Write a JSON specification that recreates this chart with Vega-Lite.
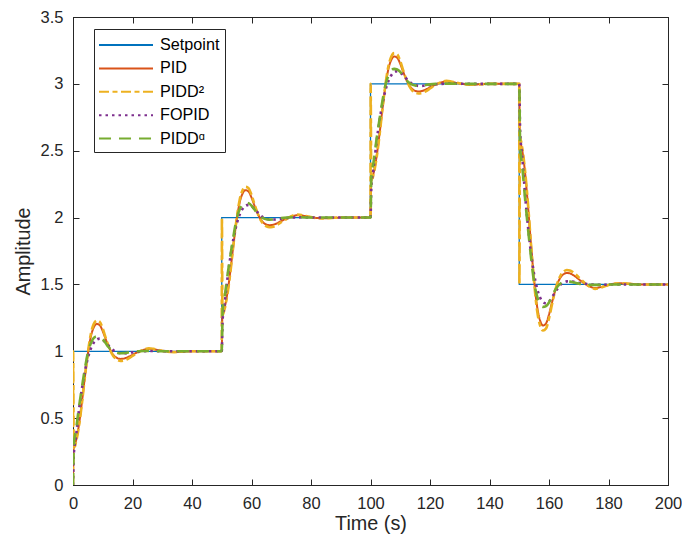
{
 "$schema": "https://vega.github.io/schema/vega-lite/v6.json",
 "width": 595,
 "height": 468,
 "autosize": {"type": "none"},
 "padding": {"left": 73, "top": 17, "right": 14, "bottom": 60},
 "background": "white",
 "config": {
  "font": "Liberation Sans",
  "view": {"stroke": "#262626", "strokeWidth": 1},
  "axis": {
   "domainColor": "#262626", "tickColor": "#262626", "labelColor": "#262626", "titleColor": "#262626",
   "labelFontSize": 16.5, "titleFontSize": 19.8, "titleFontWeight": "normal", "grid": false,
   "tickSize": -6, "labelPadding": 16, "labelFlush": false, "labelOverlap": false
  }
 },
 "data": {"values": [
  {"s":"Setpoint","t":0,"y":1},{"s":"Setpoint","t":50,"y":2},{"s":"Setpoint","t":100,"y":3},{"s":"Setpoint","t":150,"y":1.5},{"s":"Setpoint","t":200,"y":1.5},

  {"s":"PID","t":0,"y":0},{"s":"PID","t":0.2,"y":0.27},{"s":"PID","t":1,"y":0.33},{"s":"PID","t":2,"y":0.45},{"s":"PID","t":3,"y":0.62},{"s":"PID","t":4,"y":0.81},{"s":"PID","t":5,"y":0.98},{"s":"PID","t":6,"y":1.11},{"s":"PID","t":7,"y":1.18},{"s":"PID","t":8,"y":1.205},{"s":"PID","t":9,"y":1.195},{"s":"PID","t":10,"y":1.15},{"s":"PID","t":11,"y":1.09},{"s":"PID","t":12,"y":1.035},{"s":"PID","t":13,"y":0.99},{"s":"PID","t":14,"y":0.962},{"s":"PID","t":15,"y":0.948},{"s":"PID","t":16,"y":0.943},{"s":"PID","t":17,"y":0.945},{"s":"PID","t":18,"y":0.952},{"s":"PID","t":19,"y":0.962},{"s":"PID","t":20,"y":0.974},{"s":"PID","t":22,"y":0.996},{"s":"PID","t":24,"y":1.012},{"s":"PID","t":25.5,"y":1.018},{"s":"PID","t":27,"y":1.015},{"s":"PID","t":29,"y":1.007},{"s":"PID","t":31,"y":0.999},{"s":"PID","t":34,"y":0.995},{"s":"PID","t":37,"y":0.997},{"s":"PID","t":40,"y":1},
  {"s":"PID","t":50,"y":1},{"s":"PID","t":50.2,"y":1.27},{"s":"PID","t":51,"y":1.33},{"s":"PID","t":52,"y":1.45},{"s":"PID","t":53,"y":1.62},{"s":"PID","t":54,"y":1.81},{"s":"PID","t":55,"y":1.98},{"s":"PID","t":56,"y":2.11},{"s":"PID","t":57,"y":2.18},{"s":"PID","t":58,"y":2.205},{"s":"PID","t":59,"y":2.195},{"s":"PID","t":60,"y":2.15},{"s":"PID","t":61,"y":2.09},{"s":"PID","t":62,"y":2.035},{"s":"PID","t":63,"y":1.99},{"s":"PID","t":64,"y":1.962},{"s":"PID","t":65,"y":1.948},{"s":"PID","t":66,"y":1.943},{"s":"PID","t":67,"y":1.945},{"s":"PID","t":68,"y":1.952},{"s":"PID","t":69,"y":1.962},{"s":"PID","t":70,"y":1.974},{"s":"PID","t":72,"y":1.996},{"s":"PID","t":74,"y":2.012},{"s":"PID","t":75.5,"y":2.018},{"s":"PID","t":77,"y":2.015},{"s":"PID","t":79,"y":2.007},{"s":"PID","t":81,"y":1.999},{"s":"PID","t":84,"y":1.995},{"s":"PID","t":87,"y":1.997},{"s":"PID","t":90,"y":2},
  {"s":"PID","t":100,"y":2},{"s":"PID","t":100.2,"y":2.27},{"s":"PID","t":101,"y":2.33},{"s":"PID","t":102,"y":2.45},{"s":"PID","t":103,"y":2.62},{"s":"PID","t":104,"y":2.81},{"s":"PID","t":105,"y":2.98},{"s":"PID","t":106,"y":3.11},{"s":"PID","t":107,"y":3.18},{"s":"PID","t":108,"y":3.205},{"s":"PID","t":109,"y":3.195},{"s":"PID","t":110,"y":3.15},{"s":"PID","t":111,"y":3.09},{"s":"PID","t":112,"y":3.035},{"s":"PID","t":113,"y":2.99},{"s":"PID","t":114,"y":2.962},{"s":"PID","t":115,"y":2.948},{"s":"PID","t":116,"y":2.943},{"s":"PID","t":117,"y":2.945},{"s":"PID","t":118,"y":2.952},{"s":"PID","t":119,"y":2.962},{"s":"PID","t":120,"y":2.974},{"s":"PID","t":122,"y":2.996},{"s":"PID","t":124,"y":3.012},{"s":"PID","t":125.5,"y":3.018},{"s":"PID","t":127,"y":3.015},{"s":"PID","t":129,"y":3.007},{"s":"PID","t":131,"y":2.999},{"s":"PID","t":134,"y":2.995},{"s":"PID","t":137,"y":2.997},{"s":"PID","t":140,"y":3},
  {"s":"PID","t":150,"y":3},{"s":"PID","t":150.2,"y":2.595},{"s":"PID","t":151,"y":2.505},{"s":"PID","t":152,"y":2.325},{"s":"PID","t":153,"y":2.07},{"s":"PID","t":154,"y":1.785},{"s":"PID","t":155,"y":1.53},{"s":"PID","t":156,"y":1.335},{"s":"PID","t":157,"y":1.23},{"s":"PID","t":158,"y":1.193},{"s":"PID","t":159,"y":1.208},{"s":"PID","t":160,"y":1.275},{"s":"PID","t":161,"y":1.365},{"s":"PID","t":162,"y":1.448},{"s":"PID","t":163,"y":1.515},{"s":"PID","t":164,"y":1.557},{"s":"PID","t":165,"y":1.578},{"s":"PID","t":166,"y":1.586},{"s":"PID","t":167,"y":1.583},{"s":"PID","t":168,"y":1.572},{"s":"PID","t":169,"y":1.557},{"s":"PID","t":170,"y":1.539},{"s":"PID","t":172,"y":1.506},{"s":"PID","t":174,"y":1.482},{"s":"PID","t":175.5,"y":1.473},{"s":"PID","t":177,"y":1.478},{"s":"PID","t":179,"y":1.49},{"s":"PID","t":181,"y":1.502},{"s":"PID","t":184,"y":1.508},{"s":"PID","t":187,"y":1.505},{"s":"PID","t":190,"y":1.5},{"s":"PID","t":200,"y":1.5},

  {"s":"PIDD²","t":0,"y":0},{"s":"PIDD²","t":0.05,"y":1},{"s":"PIDD²","t":0.25,"y":0.27},{"s":"PIDD²","t":1,"y":0.32},{"s":"PIDD²","t":2,"y":0.44},{"s":"PIDD²","t":3,"y":0.61},{"s":"PIDD²","t":4,"y":0.81},{"s":"PIDD²","t":5,"y":0.99},{"s":"PIDD²","t":6,"y":1.13},{"s":"PIDD²","t":7,"y":1.205},{"s":"PIDD²","t":8,"y":1.23},{"s":"PIDD²","t":9,"y":1.22},{"s":"PIDD²","t":10,"y":1.17},{"s":"PIDD²","t":11,"y":1.1},{"s":"PIDD²","t":12,"y":1.035},{"s":"PIDD²","t":13,"y":0.985},{"s":"PIDD²","t":14,"y":0.952},{"s":"PIDD²","t":15,"y":0.935},{"s":"PIDD²","t":16,"y":0.928},{"s":"PIDD²","t":17,"y":0.93},{"s":"PIDD²","t":18,"y":0.938},{"s":"PIDD²","t":19,"y":0.95},{"s":"PIDD²","t":20,"y":0.965},{"s":"PIDD²","t":22,"y":0.993},{"s":"PIDD²","t":24,"y":1.015},{"s":"PIDD²","t":25.5,"y":1.022},{"s":"PIDD²","t":27,"y":1.018},{"s":"PIDD²","t":29,"y":1.008},{"s":"PIDD²","t":31,"y":0.999},{"s":"PIDD²","t":34,"y":0.994},{"s":"PIDD²","t":37,"y":0.997},{"s":"PIDD²","t":40,"y":1},
  {"s":"PIDD²","t":50,"y":1},{"s":"PIDD²","t":50.05,"y":2},{"s":"PIDD²","t":50.25,"y":1.27},{"s":"PIDD²","t":51,"y":1.32},{"s":"PIDD²","t":52,"y":1.44},{"s":"PIDD²","t":53,"y":1.61},{"s":"PIDD²","t":54,"y":1.81},{"s":"PIDD²","t":55,"y":1.99},{"s":"PIDD²","t":56,"y":2.13},{"s":"PIDD²","t":57,"y":2.205},{"s":"PIDD²","t":58,"y":2.23},{"s":"PIDD²","t":59,"y":2.22},{"s":"PIDD²","t":60,"y":2.17},{"s":"PIDD²","t":61,"y":2.1},{"s":"PIDD²","t":62,"y":2.035},{"s":"PIDD²","t":63,"y":1.985},{"s":"PIDD²","t":64,"y":1.952},{"s":"PIDD²","t":65,"y":1.935},{"s":"PIDD²","t":66,"y":1.928},{"s":"PIDD²","t":67,"y":1.93},{"s":"PIDD²","t":68,"y":1.938},{"s":"PIDD²","t":69,"y":1.95},{"s":"PIDD²","t":70,"y":1.965},{"s":"PIDD²","t":72,"y":1.993},{"s":"PIDD²","t":74,"y":2.015},{"s":"PIDD²","t":75.5,"y":2.022},{"s":"PIDD²","t":77,"y":2.018},{"s":"PIDD²","t":79,"y":2.008},{"s":"PIDD²","t":81,"y":1.999},{"s":"PIDD²","t":84,"y":1.994},{"s":"PIDD²","t":87,"y":1.997},{"s":"PIDD²","t":90,"y":2},
  {"s":"PIDD²","t":100,"y":2},{"s":"PIDD²","t":100.05,"y":3},{"s":"PIDD²","t":100.25,"y":2.27},{"s":"PIDD²","t":101,"y":2.32},{"s":"PIDD²","t":102,"y":2.44},{"s":"PIDD²","t":103,"y":2.61},{"s":"PIDD²","t":104,"y":2.81},{"s":"PIDD²","t":105,"y":2.99},{"s":"PIDD²","t":106,"y":3.13},{"s":"PIDD²","t":107,"y":3.205},{"s":"PIDD²","t":108,"y":3.23},{"s":"PIDD²","t":109,"y":3.22},{"s":"PIDD²","t":110,"y":3.17},{"s":"PIDD²","t":111,"y":3.1},{"s":"PIDD²","t":112,"y":3.035},{"s":"PIDD²","t":113,"y":2.985},{"s":"PIDD²","t":114,"y":2.952},{"s":"PIDD²","t":115,"y":2.935},{"s":"PIDD²","t":116,"y":2.928},{"s":"PIDD²","t":117,"y":2.93},{"s":"PIDD²","t":118,"y":2.938},{"s":"PIDD²","t":119,"y":2.95},{"s":"PIDD²","t":120,"y":2.965},{"s":"PIDD²","t":122,"y":2.993},{"s":"PIDD²","t":124,"y":3.015},{"s":"PIDD²","t":125.5,"y":3.022},{"s":"PIDD²","t":127,"y":3.018},{"s":"PIDD²","t":129,"y":3.008},{"s":"PIDD²","t":131,"y":2.999},{"s":"PIDD²","t":134,"y":2.994},{"s":"PIDD²","t":137,"y":2.997},{"s":"PIDD²","t":140,"y":3},
  {"s":"PIDD²","t":150,"y":3},{"s":"PIDD²","t":150.05,"y":1.5},{"s":"PIDD²","t":150.25,"y":2.595},{"s":"PIDD²","t":151,"y":2.52},{"s":"PIDD²","t":152,"y":2.34},{"s":"PIDD²","t":153,"y":2.085},{"s":"PIDD²","t":154,"y":1.785},{"s":"PIDD²","t":155,"y":1.515},{"s":"PIDD²","t":156,"y":1.305},{"s":"PIDD²","t":157,"y":1.193},{"s":"PIDD²","t":158,"y":1.155},{"s":"PIDD²","t":159,"y":1.17},{"s":"PIDD²","t":160,"y":1.245},{"s":"PIDD²","t":161,"y":1.35},{"s":"PIDD²","t":162,"y":1.448},{"s":"PIDD²","t":163,"y":1.523},{"s":"PIDD²","t":164,"y":1.572},{"s":"PIDD²","t":165,"y":1.598},{"s":"PIDD²","t":166,"y":1.608},{"s":"PIDD²","t":167,"y":1.605},{"s":"PIDD²","t":168,"y":1.593},{"s":"PIDD²","t":169,"y":1.575},{"s":"PIDD²","t":170,"y":1.553},{"s":"PIDD²","t":172,"y":1.511},{"s":"PIDD²","t":174,"y":1.478},{"s":"PIDD²","t":175.5,"y":1.467},{"s":"PIDD²","t":177,"y":1.473},{"s":"PIDD²","t":179,"y":1.488},{"s":"PIDD²","t":181,"y":1.502},{"s":"PIDD²","t":184,"y":1.509},{"s":"PIDD²","t":187,"y":1.505},{"s":"PIDD²","t":190,"y":1.5},{"s":"PIDD²","t":200,"y":1.5},

  {"s":"FOPID","t":0,"y":0},{"s":"FOPID","t":0.3,"y":0.24},{"s":"FOPID","t":1,"y":0.36},{"s":"FOPID","t":2,"y":0.56},{"s":"FOPID","t":3,"y":0.72},{"s":"FOPID","t":4,"y":0.85},{"s":"FOPID","t":5,"y":0.95},{"s":"FOPID","t":6,"y":1.02},{"s":"FOPID","t":7,"y":1.065},{"s":"FOPID","t":8,"y":1.088},{"s":"FOPID","t":9,"y":1.095},{"s":"FOPID","t":10,"y":1.085},{"s":"FOPID","t":11,"y":1.065},{"s":"FOPID","t":12,"y":1.04},{"s":"FOPID","t":13,"y":1.018},{"s":"FOPID","t":14,"y":1},{"s":"FOPID","t":15,"y":0.99},{"s":"FOPID","t":16,"y":0.985},{"s":"FOPID","t":17,"y":0.984},{"s":"FOPID","t":18,"y":0.986},{"s":"FOPID","t":19,"y":0.989},{"s":"FOPID","t":20,"y":0.992},{"s":"FOPID","t":22,"y":0.997},{"s":"FOPID","t":24,"y":1},{"s":"FOPID","t":27,"y":1.002},{"s":"FOPID","t":30,"y":1.001},{"s":"FOPID","t":35,"y":1},
  {"s":"FOPID","t":50,"y":1},{"s":"FOPID","t":50.3,"y":1.24},{"s":"FOPID","t":51,"y":1.36},{"s":"FOPID","t":52,"y":1.56},{"s":"FOPID","t":53,"y":1.72},{"s":"FOPID","t":54,"y":1.85},{"s":"FOPID","t":55,"y":1.95},{"s":"FOPID","t":56,"y":2.02},{"s":"FOPID","t":57,"y":2.065},{"s":"FOPID","t":58,"y":2.088},{"s":"FOPID","t":59,"y":2.095},{"s":"FOPID","t":60,"y":2.085},{"s":"FOPID","t":61,"y":2.065},{"s":"FOPID","t":62,"y":2.04},{"s":"FOPID","t":63,"y":2.018},{"s":"FOPID","t":64,"y":2},{"s":"FOPID","t":65,"y":1.99},{"s":"FOPID","t":66,"y":1.985},{"s":"FOPID","t":67,"y":1.984},{"s":"FOPID","t":68,"y":1.986},{"s":"FOPID","t":69,"y":1.989},{"s":"FOPID","t":70,"y":1.992},{"s":"FOPID","t":72,"y":1.997},{"s":"FOPID","t":74,"y":2},{"s":"FOPID","t":77,"y":2.002},{"s":"FOPID","t":80,"y":2.001},{"s":"FOPID","t":85,"y":2},
  {"s":"FOPID","t":100,"y":2},{"s":"FOPID","t":100.3,"y":2.24},{"s":"FOPID","t":101,"y":2.36},{"s":"FOPID","t":102,"y":2.56},{"s":"FOPID","t":103,"y":2.72},{"s":"FOPID","t":104,"y":2.85},{"s":"FOPID","t":105,"y":2.95},{"s":"FOPID","t":106,"y":3.02},{"s":"FOPID","t":107,"y":3.065},{"s":"FOPID","t":108,"y":3.088},{"s":"FOPID","t":109,"y":3.095},{"s":"FOPID","t":110,"y":3.085},{"s":"FOPID","t":111,"y":3.065},{"s":"FOPID","t":112,"y":3.04},{"s":"FOPID","t":113,"y":3.018},{"s":"FOPID","t":114,"y":3},{"s":"FOPID","t":115,"y":2.99},{"s":"FOPID","t":116,"y":2.985},{"s":"FOPID","t":117,"y":2.984},{"s":"FOPID","t":118,"y":2.986},{"s":"FOPID","t":119,"y":2.989},{"s":"FOPID","t":120,"y":2.992},{"s":"FOPID","t":122,"y":2.997},{"s":"FOPID","t":124,"y":3},{"s":"FOPID","t":127,"y":3.002},{"s":"FOPID","t":130,"y":3.001},{"s":"FOPID","t":135,"y":3},
  {"s":"FOPID","t":150,"y":3},{"s":"FOPID","t":150.3,"y":2.64},{"s":"FOPID","t":151,"y":2.46},{"s":"FOPID","t":152,"y":2.16},{"s":"FOPID","t":153,"y":1.92},{"s":"FOPID","t":154,"y":1.725},{"s":"FOPID","t":155,"y":1.575},{"s":"FOPID","t":156,"y":1.47},{"s":"FOPID","t":157,"y":1.403},{"s":"FOPID","t":158,"y":1.368},{"s":"FOPID","t":159,"y":1.358},{"s":"FOPID","t":160,"y":1.373},{"s":"FOPID","t":161,"y":1.403},{"s":"FOPID","t":162,"y":1.44},{"s":"FOPID","t":163,"y":1.473},{"s":"FOPID","t":164,"y":1.5},{"s":"FOPID","t":165,"y":1.515},{"s":"FOPID","t":166,"y":1.523},{"s":"FOPID","t":167,"y":1.524},{"s":"FOPID","t":168,"y":1.521},{"s":"FOPID","t":169,"y":1.517},{"s":"FOPID","t":170,"y":1.512},{"s":"FOPID","t":172,"y":1.505},{"s":"FOPID","t":174,"y":1.5},{"s":"FOPID","t":177,"y":1.497},{"s":"FOPID","t":180,"y":1.499},{"s":"FOPID","t":185,"y":1.5},{"s":"FOPID","t":200,"y":1.5},

  {"s":"PIDDᵅ","t":0,"y":0},{"s":"PIDDᵅ","t":0.3,"y":0.31},{"s":"PIDDᵅ","t":1,"y":0.41},{"s":"PIDDᵅ","t":2,"y":0.58},{"s":"PIDDᵅ","t":3,"y":0.73},{"s":"PIDDᵅ","t":4,"y":0.87},{"s":"PIDDᵅ","t":5,"y":0.99},{"s":"PIDDᵅ","t":6,"y":1.06},{"s":"PIDDᵅ","t":7,"y":1.1},{"s":"PIDDᵅ","t":8,"y":1.112},{"s":"PIDDᵅ","t":9,"y":1.108},{"s":"PIDDᵅ","t":10,"y":1.09},{"s":"PIDDᵅ","t":11,"y":1.06},{"s":"PIDDᵅ","t":12,"y":1.03},{"s":"PIDDᵅ","t":13,"y":1.008},{"s":"PIDDᵅ","t":14,"y":0.994},{"s":"PIDDᵅ","t":15,"y":0.987},{"s":"PIDDᵅ","t":16,"y":0.985},{"s":"PIDDᵅ","t":17,"y":0.986},{"s":"PIDDᵅ","t":18,"y":0.989},{"s":"PIDDᵅ","t":19,"y":0.993},{"s":"PIDDᵅ","t":20,"y":0.996},{"s":"PIDDᵅ","t":22,"y":1},{"s":"PIDDᵅ","t":24,"y":1.002},{"s":"PIDDᵅ","t":27,"y":1.002},{"s":"PIDDᵅ","t":30,"y":1},
  {"s":"PIDDᵅ","t":50,"y":1},{"s":"PIDDᵅ","t":50.3,"y":1.31},{"s":"PIDDᵅ","t":51,"y":1.41},{"s":"PIDDᵅ","t":52,"y":1.58},{"s":"PIDDᵅ","t":53,"y":1.73},{"s":"PIDDᵅ","t":54,"y":1.87},{"s":"PIDDᵅ","t":55,"y":1.99},{"s":"PIDDᵅ","t":56,"y":2.06},{"s":"PIDDᵅ","t":57,"y":2.1},{"s":"PIDDᵅ","t":58,"y":2.112},{"s":"PIDDᵅ","t":59,"y":2.108},{"s":"PIDDᵅ","t":60,"y":2.09},{"s":"PIDDᵅ","t":61,"y":2.06},{"s":"PIDDᵅ","t":62,"y":2.03},{"s":"PIDDᵅ","t":63,"y":2.008},{"s":"PIDDᵅ","t":64,"y":1.994},{"s":"PIDDᵅ","t":65,"y":1.987},{"s":"PIDDᵅ","t":66,"y":1.985},{"s":"PIDDᵅ","t":67,"y":1.986},{"s":"PIDDᵅ","t":68,"y":1.989},{"s":"PIDDᵅ","t":69,"y":1.993},{"s":"PIDDᵅ","t":70,"y":1.996},{"s":"PIDDᵅ","t":72,"y":2},{"s":"PIDDᵅ","t":74,"y":2.002},{"s":"PIDDᵅ","t":77,"y":2.002},{"s":"PIDDᵅ","t":80,"y":2},
  {"s":"PIDDᵅ","t":100,"y":2},{"s":"PIDDᵅ","t":100.3,"y":2.31},{"s":"PIDDᵅ","t":101,"y":2.41},{"s":"PIDDᵅ","t":102,"y":2.58},{"s":"PIDDᵅ","t":103,"y":2.73},{"s":"PIDDᵅ","t":104,"y":2.87},{"s":"PIDDᵅ","t":105,"y":2.99},{"s":"PIDDᵅ","t":106,"y":3.06},{"s":"PIDDᵅ","t":107,"y":3.1},{"s":"PIDDᵅ","t":108,"y":3.112},{"s":"PIDDᵅ","t":109,"y":3.108},{"s":"PIDDᵅ","t":110,"y":3.09},{"s":"PIDDᵅ","t":111,"y":3.06},{"s":"PIDDᵅ","t":112,"y":3.03},{"s":"PIDDᵅ","t":113,"y":3.008},{"s":"PIDDᵅ","t":114,"y":2.994},{"s":"PIDDᵅ","t":115,"y":2.987},{"s":"PIDDᵅ","t":116,"y":2.985},{"s":"PIDDᵅ","t":117,"y":2.986},{"s":"PIDDᵅ","t":118,"y":2.989},{"s":"PIDDᵅ","t":119,"y":2.993},{"s":"PIDDᵅ","t":120,"y":2.996},{"s":"PIDDᵅ","t":122,"y":3},{"s":"PIDDᵅ","t":124,"y":3.002},{"s":"PIDDᵅ","t":127,"y":3.002},{"s":"PIDDᵅ","t":130,"y":3},
  {"s":"PIDDᵅ","t":150,"y":3},{"s":"PIDDᵅ","t":150.3,"y":2.535},{"s":"PIDDᵅ","t":151,"y":2.385},{"s":"PIDDᵅ","t":152,"y":2.13},{"s":"PIDDᵅ","t":153,"y":1.905},{"s":"PIDDᵅ","t":154,"y":1.695},{"s":"PIDDᵅ","t":155,"y":1.515},{"s":"PIDDᵅ","t":156,"y":1.41},{"s":"PIDDᵅ","t":157,"y":1.35},{"s":"PIDDᵅ","t":158,"y":1.332},{"s":"PIDDᵅ","t":159,"y":1.338},{"s":"PIDDᵅ","t":160,"y":1.365},{"s":"PIDDᵅ","t":161,"y":1.41},{"s":"PIDDᵅ","t":162,"y":1.455},{"s":"PIDDᵅ","t":163,"y":1.488},{"s":"PIDDᵅ","t":164,"y":1.509},{"s":"PIDDᵅ","t":165,"y":1.52},{"s":"PIDDᵅ","t":166,"y":1.523},{"s":"PIDDᵅ","t":167,"y":1.521},{"s":"PIDDᵅ","t":168,"y":1.517},{"s":"PIDDᵅ","t":169,"y":1.511},{"s":"PIDDᵅ","t":170,"y":1.506},{"s":"PIDDᵅ","t":172,"y":1.5},{"s":"PIDDᵅ","t":174,"y":1.497},{"s":"PIDDᵅ","t":177,"y":1.497},{"s":"PIDDᵅ","t":180,"y":1.5},{"s":"PIDDᵅ","t":200,"y":1.5}
 ]},
 "encoding": {
  "x": {"field": "t", "type": "quantitative", "scale": {"domain": [0, 200], "nice": false, "zero": false}},
  "y": {"field": "y", "type": "quantitative", "scale": {"domain": [0, 3.5], "nice": false, "zero": false}},
  "color": {"field": "s", "type": "nominal", "scale": {"domain": ["Setpoint", "PID", "PIDD²", "FOPID", "PIDDᵅ"], "range": ["#0072BD", "#D95319", "#EDB120", "#7E2F8E", "#77AC30"]}, "legend": null},
  "strokeDash": {"field": "s", "type": "nominal", "scale": {"domain": ["Setpoint", "PID", "PIDD²", "FOPID", "PIDDᵅ"], "range": [[1, 0], [1, 0], [10, 3.5, 5, 3.5], [2.5, 4], [12, 8]]}, "legend": null}
 },
 "layer": [
  {
   "transform": [{"filter": "datum.s === 'Setpoint'"}],
   "mark": {"type": "line", "interpolate": "step-after", "strokeWidth": 1.3, "clip": true},
   "encoding": {
    "x": {"field": "t", "type": "quantitative", "axis": {"orient": "bottom", "title": "Time (s)", "values": [0, 20, 40, 60, 80, 100, 120, 140, 160, 180, 200], "titlePadding": 2}},
    "y": {"field": "y", "type": "quantitative", "axis": {"orient": "left", "title": "Amplitude", "format": "~g", "values": [0, 0.5, 1, 1.5, 2, 2.5, 3, 3.5], "titlePadding": 7}},
    "color": {"field": "s", "type": "nominal", "legend": {
      "orient": "none", "legendX": 21, "legendY": 12, "title": null,
      "symbolType": "M-1.7,0L3.7,0", "symbolSize": 400, "symbolStrokeWidth": 2, "symbolOffset": 6,
      "labelOffset": 33, "labelFontSize": 16.2, "labelColor": "black", "padding": 5, "rowPadding": 3.4,
      "strokeColor": "#262626", "fillColor": "white", "cornerRadius": 0}},
    "strokeDash": {"field": "s", "type": "nominal", "legend": {
      "orient": "none", "legendX": 21, "legendY": 12, "title": null,
      "symbolType": "M-1.7,0L3.7,0", "symbolSize": 400, "symbolStrokeWidth": 2, "symbolOffset": 6,
      "labelOffset": 33, "labelFontSize": 16.2, "labelColor": "black", "padding": 5, "rowPadding": 3.4,
      "strokeColor": "#262626", "fillColor": "white", "cornerRadius": 0}}
   }
  },
  {
   "transform": [{"filter": "datum.s === 'PID'"}],
   "mark": {"type": "line", "interpolate": "monotone", "strokeWidth": 2, "clip": true},
   "encoding": {
    "x": {"field": "t", "type": "quantitative", "axis": {"orient": "top", "title": null, "labels": false, "values": [0, 20, 40, 60, 80, 100, 120, 140, 160, 180, 200]}},
    "y": {"field": "y", "type": "quantitative", "axis": {"orient": "right", "title": null, "labels": false, "values": [0, 0.5, 1, 1.5, 2, 2.5, 3, 3.5]}}
   }
  },
  {
   "transform": [{"filter": "datum.s === 'PIDD²'"}],
   "mark": {"type": "line", "interpolate": "monotone", "strokeWidth": 2.6, "clip": true},
   "encoding": {"x": {"field": "t", "type": "quantitative", "axis": null}, "y": {"field": "y", "type": "quantitative", "axis": null}}
  },
  {
   "transform": [{"filter": "datum.s === 'FOPID'"}],
   "mark": {"type": "line", "interpolate": "monotone", "strokeWidth": 2.6, "clip": true},
   "encoding": {"x": {"field": "t", "type": "quantitative", "axis": null}, "y": {"field": "y", "type": "quantitative", "axis": null}}
  },
  {
   "transform": [{"filter": "datum.s === 'PIDDᵅ'"}],
   "mark": {"type": "line", "interpolate": "monotone", "strokeWidth": 2.6, "clip": true},
   "encoding": {"x": {"field": "t", "type": "quantitative", "axis": null}, "y": {"field": "y", "type": "quantitative", "axis": null}}
  }
 ],
 "resolve": {"axis": {"x": "independent", "y": "independent"}}
}
